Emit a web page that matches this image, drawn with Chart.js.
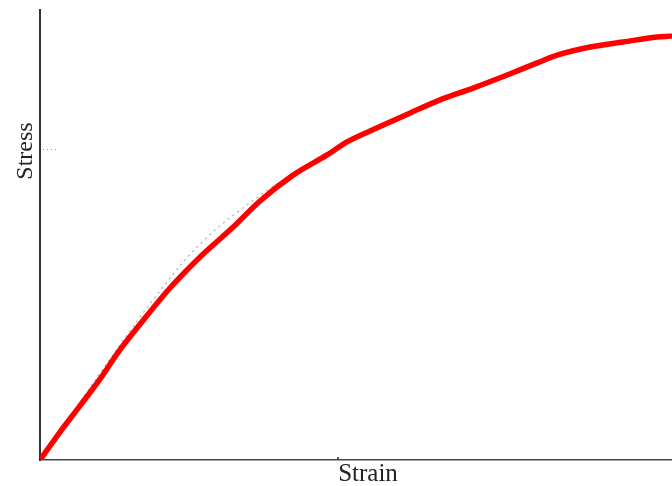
<!DOCTYPE html>
<html>
<head>
<meta charset="utf-8">
<script src="https://cdn.jsdelivr.net/npm/chart.js@4/dist/chart.umd.min.js"></script>
<style>
  html, body { margin: 0; padding: 0; background: #fff; }
  #wrap { width: 672px; height: 486px; }
</style>
</head>
<body>
<div id="wrap"><canvas id="chart"></canvas></div>
<script>
// measured curve (red)
const strain = [0, 0.67, 1.34, 2.01, 2.68, 3.36, 4.36, 5.37, 6.48, 7.38, 8.49, 9.63, 10.30, 11.31, 12.42, 13.42, 14.53, 15.67, 16.68, 17.35, 18.46, 19.56, 20.70, 21.14];
const stress = [0, 0.90, 1.74, 2.60, 3.54, 4.37, 5.53, 6.53, 7.49, 8.33, 9.16, 9.81, 10.23, 10.68, 11.16, 11.58, 11.96, 12.38, 12.77, 13.02, 13.28, 13.44, 13.60, 13.63];

// faint grey fitted curve underneath
const fitStrain = [0, 2.35, 3.69, 5.27, 7.45, 9.73];
const fitStress = [0, 3.25, 5.02, 6.85, 8.55, 9.90];

// single tick on each axis
const xTicks = [10];
const yTicks = [10];

const xLabel = "Strain";
const yLabel = "Stress";

const serif = '"Liberation Serif", "DejaVu Serif", serif';

// small marks drawn just inside the axes, plus the axis labels
const axisDecor = {
  id: "axisDecor",
  afterDraw(chart) {
    const { ctx, chartArea, scales } = chart;
    ctx.save();
    // y tick: short dotted grey line
    ctx.strokeStyle = "#999";
    ctx.lineWidth = 1;
    ctx.setLineDash([1, 3]);
    yTicks.forEach((v) => {
      const py = Math.round(scales.y.getPixelForValue(v)) + 0.5;
      ctx.beginPath();
      ctx.moveTo(chartArea.left + 3, py);
      ctx.lineTo(chartArea.left + 16, py);
      ctx.stroke();
    });
    ctx.setLineDash([]);
    // x tick: tiny dot above axis
    ctx.fillStyle = "#555";
    xTicks.forEach((v) => {
      const px = Math.round(scales.x.getPixelForValue(v));
      ctx.fillRect(px - 1, chartArea.bottom - 3, 2, 2);
    });

    ctx.fillStyle = "#222";
    ctx.font = "25px " + serif;
    ctx.textAlign = "center";
    ctx.textBaseline = "middle";
    ctx.fillText(xLabel, 368, 474);

    ctx.translate(26, 151);
    ctx.rotate(-Math.PI / 2);
    ctx.font = "24px " + serif;
    ctx.fillText(yLabel, 0, 0);
    ctx.restore();
  },
};

new Chart(document.querySelector("#chart").getContext("2d"), {
  type: "line",
  data: {
    datasets: [
      {
        label: "measured",
        data: strain.map((x, i) => ({ x: x, y: stress[i] })),
        borderColor: "#ff0000",
        borderWidth: 5.5,
        pointRadius: 0,
        cubicInterpolationMode: "monotone",
        borderCapStyle: "round",
      },
      {
        label: "fit",
        data: fitStrain.map((x, i) => ({ x: x, y: fitStress[i] })),
        borderColor: "#aaa",
        borderWidth: 1.2,
        borderDash: [2, 4],
        pointRadius: 0,
        cubicInterpolationMode: "monotone",
      },
    ],
  },
  options: {
    responsive: true,
    maintainAspectRatio: false,
    animation: false,
    layout: { padding: { top: 10, right: 0, left: 0, bottom: 0 } },
    plugins: {
      legend: { display: false },
      tooltip: { enabled: false },
    },
    scales: {
      x: {
        type: "linear",
        min: 0,
        max: 21.2,
        afterBuildTicks: (s) => { s.ticks = xTicks.map((v) => ({ value: v })); },
        afterFit: (s) => { s.height = 26; },
        ticks: { display: false },
        grid: { display: false, drawTicks: false },
        border: { display: true, color: "#444", width: 1.5 },
      },
      y: {
        type: "linear",
        min: 0,
        max: 14.47,
        afterBuildTicks: (s) => { s.ticks = yTicks.map((v) => ({ value: v })); },
        afterFit: (s) => { s.width = 40; },
        ticks: { display: false },
        grid: { display: false, drawTicks: false },
        border: { display: true, color: "#333", width: 2 },
      },
    },
  },
  plugins: [axisDecor],
});
</script>
</body>
</html>
